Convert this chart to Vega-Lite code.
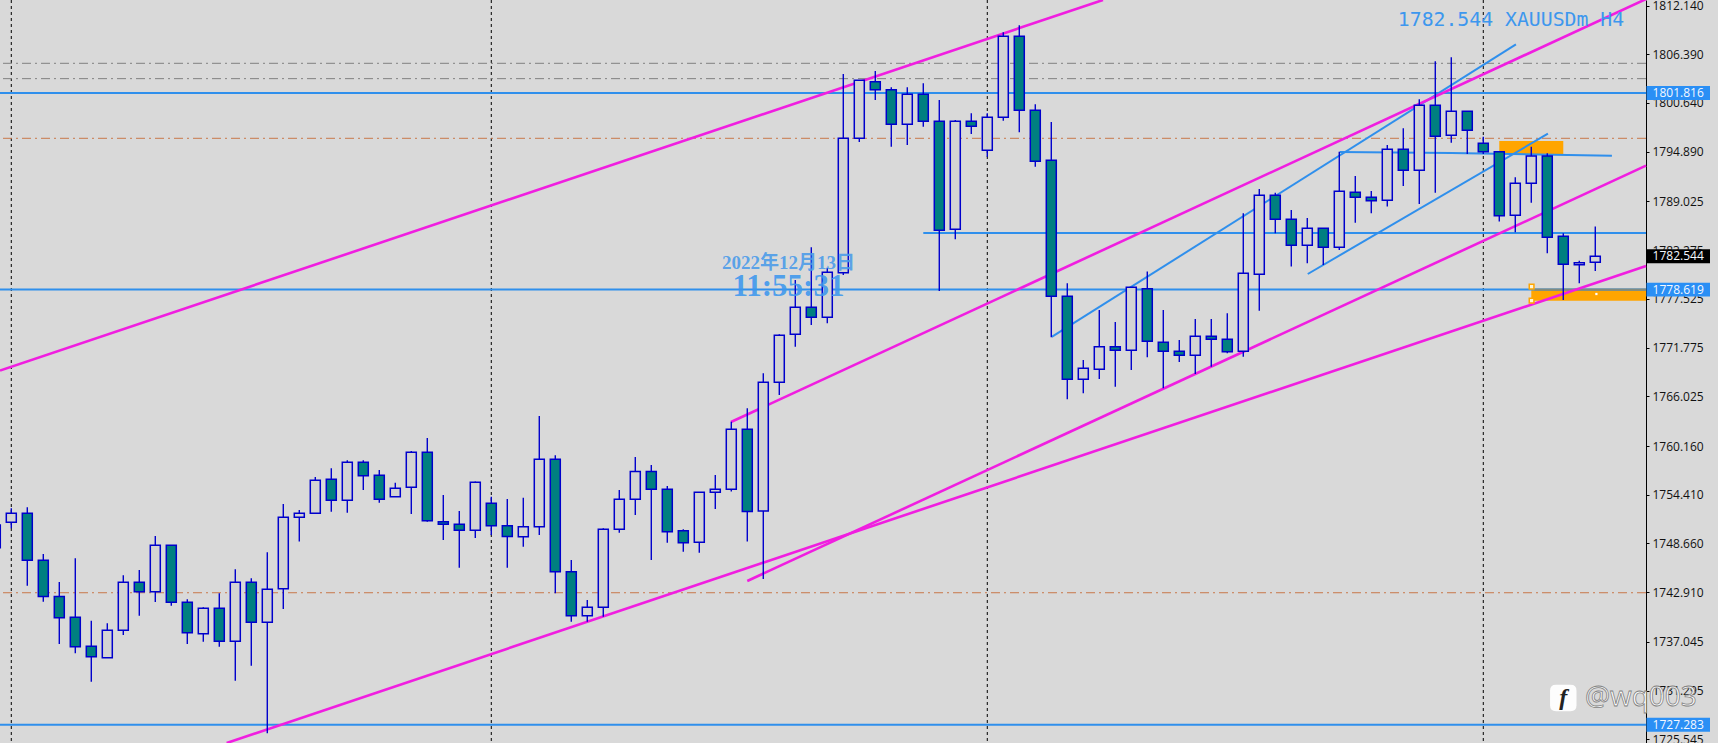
{
"$schema":"https://vega.github.io/schema/vega-lite/v6.json",
"width":1646,"height":743,"autosize":"none","padding":{"left":0,"top":0,"right":72,"bottom":0},
"background":"#d9d9d9",
"view":{"stroke":null,"fill":"#d9d9d9"},
"datasets":{
"candles":[
{"i":-1,"h":1751.0,"o":1748.17,"c":1750.84,"l":1748.0,"t":"up"},
{"i":0,"h":1752.81,"o":1751.16,"c":1752.22,"l":1750.45,"t":"up"},
{"i":1,"h":1752.93,"o":1752.22,"c":1746.67,"l":1743.68,"t":"down"},
{"i":2,"h":1747.42,"o":1746.67,"c":1742.42,"l":1741.80,"t":"down"},
{"i":3,"h":1744.12,"o":1742.42,"c":1739.91,"l":1736.80,"t":"down"},
{"i":4,"h":1746.91,"o":1739.95,"c":1736.49,"l":1735.70,"t":"down"},
{"i":5,"h":1739.55,"o":1736.53,"c":1735.31,"l":1732.36,"t":"down"},
{"i":6,"h":1739.24,"o":1735.19,"c":1738.41,"l":1735.19,"t":"up"},
{"i":7,"h":1744.90,"o":1738.41,"c":1744.08,"l":1737.86,"t":"up"},
{"i":8,"h":1745.53,"o":1744.08,"c":1742.98,"l":1740.14,"t":"down"},
{"i":9,"h":1749.54,"o":1742.98,"c":1748.44,"l":1741.76,"t":"up"},
{"i":10,"h":1748.44,"o":1748.44,"c":1741.72,"l":1741.32,"t":"down"},
{"i":11,"h":1742.07,"o":1741.72,"c":1738.14,"l":1736.80,"t":"down"},
{"i":12,"h":1741.13,"o":1738.02,"c":1741.01,"l":1737.08,"t":"up"},
{"i":13,"h":1742.78,"o":1741.01,"c":1737.12,"l":1736.49,"t":"down"},
{"i":14,"h":1745.61,"o":1737.12,"c":1744.08,"l":1732.47,"t":"up"},
{"i":15,"h":1744.55,"o":1744.08,"c":1739.36,"l":1734.24,"t":"down"},
{"i":16,"h":1747.62,"o":1739.36,"c":1743.25,"l":1726.26,"t":"up"},
{"i":17,"h":1753.32,"o":1743.33,"c":1751.75,"l":1740.93,"t":"up"},
{"i":18,"h":1752.61,"o":1751.75,"c":1752.22,"l":1748.91,"t":"up"},
{"i":19,"h":1756.50,"o":1752.22,"c":1756.11,"l":1752.22,"t":"up"},
{"i":20,"h":1757.53,"o":1756.23,"c":1753.75,"l":1752.41,"t":"down"},
{"i":21,"h":1758.47,"o":1753.75,"c":1758.24,"l":1752.30,"t":"up"},
{"i":22,"h":1758.47,"o":1758.24,"c":1756.66,"l":1754.97,"t":"down"},
{"i":23,"h":1757.33,"o":1756.70,"c":1753.87,"l":1753.48,"t":"down"},
{"i":24,"h":1755.84,"o":1754.18,"c":1755.17,"l":1754.18,"t":"up"},
{"i":25,"h":1759.57,"o":1755.29,"c":1759.42,"l":1752.14,"t":"up"},
{"i":26,"h":1761.11,"o":1759.42,"c":1751.35,"l":1751.23,"t":"down"},
{"i":27,"h":1754.38,"o":1751.23,"c":1750.92,"l":1749.07,"t":"down"},
{"i":28,"h":1752.49,"o":1750.92,"c":1750.21,"l":1745.81,"t":"down"},
{"i":29,"h":1755.99,"o":1750.21,"c":1755.88,"l":1749.31,"t":"up"},
{"i":30,"h":1754.18,"o":1753.40,"c":1750.76,"l":1749.66,"t":"down"},
{"i":31,"h":1753.91,"o":1750.76,"c":1749.50,"l":1745.81,"t":"down"},
{"i":32,"h":1754.07,"o":1749.46,"c":1750.64,"l":1748.28,"t":"up"},
{"i":33,"h":1763.70,"o":1750.64,"c":1758.59,"l":1749.66,"t":"up"},
{"i":34,"h":1759.06,"o":1758.59,"c":1745.34,"l":1742.78,"t":"down"},
{"i":35,"h":1746.71,"o":1745.34,"c":1740.14,"l":1739.44,"t":"down"},
{"i":36,"h":1741.99,"o":1740.14,"c":1741.13,"l":1739.44,"t":"up"},
{"i":37,"h":1750.45,"o":1741.13,"c":1750.33,"l":1740.03,"t":"up"},
{"i":38,"h":1754.97,"o":1750.33,"c":1753.87,"l":1749.94,"t":"up"},
{"i":39,"h":1758.86,"o":1753.87,"c":1757.17,"l":1752.02,"t":"up"},
{"i":40,"h":1757.92,"o":1757.17,"c":1755.05,"l":1746.71,"t":"down"},
{"i":41,"h":1755.44,"o":1755.05,"c":1750.05,"l":1748.76,"t":"down"},
{"i":42,"h":1750.33,"o":1750.17,"c":1748.76,"l":1747.69,"t":"down"},
{"i":43,"h":1754.70,"o":1748.80,"c":1754.70,"l":1747.58,"t":"up"},
{"i":44,"h":1756.74,"o":1754.70,"c":1755.05,"l":1752.73,"t":"up"},
{"i":45,"h":1763.03,"o":1755.05,"c":1762.13,"l":1754.81,"t":"up"},
{"i":46,"h":1764.61,"o":1762.13,"c":1752.45,"l":1748.91,"t":"down"},
{"i":47,"h":1768.74,"o":1752.50,"c":1767.68,"l":1744.47,"t":"up"},
{"i":48,"h":1773.34,"o":1767.68,"c":1773.22,"l":1766.18,"t":"up"},
{"i":49,"h":1779.75,"o":1773.34,"c":1776.53,"l":1771.89,"t":"up"},
{"i":50,"h":1783.61,"o":1776.53,"c":1775.35,"l":1774.44,"t":"down"},
{"i":51,"h":1781.21,"o":1775.35,"c":1780.66,"l":1774.64,"t":"up"},
{"i":52,"h":1804.06,"o":1780.62,"c":1796.47,"l":1780.34,"t":"up"},
{"i":53,"h":1803.35,"o":1796.47,"c":1803.31,"l":1796.04,"t":"up"},
{"i":54,"h":1804.41,"o":1803.15,"c":1802.21,"l":1800.99,"t":"down"},
{"i":55,"h":1802.49,"o":1802.21,"c":1798.12,"l":1795.48,"t":"down"},
{"i":56,"h":1802.49,"o":1798.12,"c":1801.66,"l":1795.68,"t":"up"},
{"i":57,"h":1802.96,"o":1801.66,"c":1798.47,"l":1797.84,"t":"down"},
{"i":58,"h":1800.99,"o":1798.47,"c":1785.61,"l":1778.45,"t":"down"},
{"i":59,"h":1798.63,"o":1785.73,"c":1798.47,"l":1784.55,"t":"up"},
{"i":60,"h":1799.42,"o":1798.47,"c":1797.88,"l":1796.98,"t":"down"},
{"i":61,"h":1799.42,"o":1795.05,"c":1798.95,"l":1794.30,"t":"up"},
{"i":62,"h":1808.97,"o":1798.95,"c":1808.50,"l":1798.55,"t":"up"},
{"i":63,"h":1809.80,"o":1808.50,"c":1799.77,"l":1797.18,"t":"down"},
{"i":64,"h":1800.48,"o":1799.77,"c":1793.75,"l":1793.12,"t":"down"},
{"i":65,"h":1798.40,"o":1793.87,"c":1777.83,"l":1772.99,"t":"down"},
{"i":66,"h":1779.36,"o":1777.83,"c":1768.03,"l":1765.67,"t":"down"},
{"i":67,"h":1770.31,"o":1768.03,"c":1769.33,"l":1766.38,"t":"up"},
{"i":68,"h":1776.21,"o":1769.21,"c":1771.89,"l":1768.07,"t":"up"},
{"i":69,"h":1774.80,"o":1771.89,"c":1771.45,"l":1767.17,"t":"down"},
{"i":70,"h":1778.89,"o":1771.45,"c":1778.89,"l":1769.13,"t":"up"},
{"i":71,"h":1780.74,"o":1778.73,"c":1772.52,"l":1770.63,"t":"down"},
{"i":72,"h":1776.21,"o":1772.40,"c":1771.34,"l":1766.97,"t":"down"},
{"i":73,"h":1772.67,"o":1771.34,"c":1770.86,"l":1770.08,"t":"down"},
{"i":74,"h":1775.15,"o":1770.86,"c":1773.11,"l":1768.66,"t":"up"},
{"i":75,"h":1775.15,"o":1773.11,"c":1772.75,"l":1769.53,"t":"down"},
{"i":76,"h":1775.82,"o":1772.75,"c":1771.30,"l":1771.10,"t":"down"},
{"i":77,"h":1787.62,"o":1771.34,"c":1780.54,"l":1770.71,"t":"up"},
{"i":78,"h":1790.49,"o":1780.42,"c":1789.74,"l":1776.13,"t":"up"},
{"i":79,"h":1790.06,"o":1789.74,"c":1786.91,"l":1785.26,"t":"down"},
{"i":80,"h":1788.01,"o":1786.91,"c":1783.84,"l":1781.33,"t":"down"},
{"i":81,"h":1787.07,"o":1783.84,"c":1785.85,"l":1781.72,"t":"up"},
{"i":82,"h":1785.85,"o":1785.85,"c":1783.61,"l":1781.52,"t":"down"},
{"i":83,"h":1794.89,"o":1783.61,"c":1790.21,"l":1783.29,"t":"up"},
{"i":84,"h":1792.02,"o":1790.10,"c":1789.51,"l":1786.52,"t":"down"},
{"i":85,"h":1790.25,"o":1789.51,"c":1789.11,"l":1787.62,"t":"down"},
{"i":86,"h":1795.68,"o":1789.15,"c":1795.17,"l":1788.41,"t":"up"},
{"i":87,"h":1797.65,"o":1795.17,"c":1792.69,"l":1790.84,"t":"down"},
{"i":88,"h":1801.07,"o":1792.69,"c":1800.36,"l":1788.72,"t":"up"},
{"i":89,"h":1805.55,"o":1800.36,"c":1796.70,"l":1790.06,"t":"down"},
{"i":90,"h":1806.03,"o":1796.82,"c":1799.65,"l":1795.96,"t":"up"},
{"i":91,"h":1799.65,"o":1799.65,"c":1797.41,"l":1794.62,"t":"down"},
{"i":92,"h":1796.66,"o":1795.88,"c":1794.89,"l":1794.62,"t":"down"},
{"i":93,"h":1794.89,"o":1794.89,"c":1787.34,"l":1786.64,"t":"down"},
{"i":94,"h":1791.87,"o":1787.38,"c":1791.16,"l":1785.38,"t":"up"},
{"i":95,"h":1795.48,"o":1791.16,"c":1794.38,"l":1788.88,"t":"up"},
{"i":96,"h":1794.70,"o":1794.38,"c":1784.79,"l":1782.90,"t":"down"},
{"i":97,"h":1785.26,"o":1784.91,"c":1781.60,"l":1777.39,"t":"down"},
{"i":98,"h":1782.03,"o":1781.56,"c":1781.80,"l":1779.36,"t":"up"},
{"i":99,"h":1786.05,"o":1781.84,"c":1782.54,"l":1780.82,"t":"up"}
]
},
"layer":[
{"data":{"values":[{"a":93.0,"b":97.0,"p0":1796.15,"p1":1794.62},{"a":95.0,"b":102.17,"p0":1778.65,"p1":1777.31}]},
 "mark":{"type":"rect","fill":"#ffa500"},
 "encoding":{"x":{"field":"a","type":"quantitative","scale":{"domain":[-0.706,102.17],"nice":false,"zero":false,"padding":0},"axis":null},"x2":{"field":"b"},
 "y":{"field":"p0","type":"quantitative","scale":{"domain":[1725.12,1812.79],"nice":false,"zero":false},"title":null,
  "axis":{"orient":"right","values":[1812.14,1806.39,1800.64,1794.89,1789.025,1783.275,1777.525,1771.775,1766.025,1760.16,1754.41,1748.66,1742.91,1737.045,1731.295,1725.545],"format":".3f","grid":false,"domainColor":"#000000","domainWidth":1,"tickColor":"#000000","tickSize":3,"labelColor":"#111111","labelFont":"Open Sans","labelFontSize":12,"labelPadding":3,"labelOverlap":false,"labelBound":false,"labelFlush":false,"title":null}},
 "y2":{"field":"p1"}}},
{"data":{"values":[{"d":0},{"d":30},{"d":61},{"d":92}]},
 "mark":{"type":"rule","color":"#000000","strokeWidth":1,"strokeDash":[3,3]},
 "encoding":{"x":{"field":"d","type":"quantitative","scale":{"domain":[-0.706,102.17],"nice":false,"zero":false,"padding":0},"axis":null}}},
{"data":{"values":[{"p":1796.47,"k":"o"},{"p":1742.85,"k":"o"},{"p":1805.32,"k":"g"},{"p":1803.51,"k":"g"}]},
 "mark":{"type":"rule","strokeWidth":1,"strokeDash":[9,4,2,4]},
 "encoding":{"y":{"field":"p","type":"quantitative","scale":{"domain":[1725.12,1812.79],"nice":false,"zero":false},"title":null},
 "stroke":{"field":"k","type":"nominal","scale":{"domain":["o","g"],"range":["#c8784a","#808080"]},"legend":null}}},
{"data":{"values":[{"a":-0.706,"b":102.17,"p":1801.816},{"a":-0.706,"b":102.17,"p":1778.619},{"a":-0.706,"b":102.17,"p":1727.283},{"a":57.0,"b":102.17,"p":1785.30}]},
 "mark":{"type":"rule","color":"#2f8fec","strokeWidth":2},
 "encoding":{"x":{"field":"a","type":"quantitative","scale":{"domain":[-0.706,102.17],"nice":false,"zero":false,"padding":0},"axis":null},"x2":{"field":"b"},
 "y":{"field":"p","type":"quantitative","scale":{"domain":[1725.12,1812.79],"nice":false,"zero":false},"title":null}}},
{"data":{"values":[{"a":95.2,"b":102.17,"p":1778.619}]},
 "mark":{"type":"rule","color":"#7f8a80","strokeWidth":2.4},
 "encoding":{"x":{"field":"a","type":"quantitative","scale":{"domain":[-0.706,102.17],"nice":false,"zero":false,"padding":0},"axis":null},"x2":{"field":"b"},
 "y":{"field":"p","type":"quantitative","scale":{"domain":[1725.12,1812.79],"nice":false,"zero":false},"title":null}}},
{"data":{"values":[
 {"id":"b1","i":65.03,"p":1773.03},{"id":"b1","i":94.04,"p":1807.56},
 {"id":"b2","i":81.03,"p":1780.46},{"id":"b2","i":96.04,"p":1797.01},
 {"id":"b3","i":83.03,"p":1794.85},{"id":"b3","i":90.0,"p":1794.75},{"id":"b3","i":100.04,"p":1794.42}]},
 "mark":{"type":"line","color":"#2f8fec","strokeWidth":2},
 "encoding":{"x":{"field":"i","type":"quantitative","scale":{"domain":[-0.706,102.17],"nice":false,"zero":false,"padding":0},"axis":null},
 "y":{"field":"p","type":"quantitative","scale":{"domain":[1725.12,1812.79],"nice":false,"zero":false},"title":null},"detail":{"field":"id"}}},
{"data":{"values":[
 {"id":"A","i":-0.706,"p":1769.07},{"id":"A","i":68.23,"p":1812.79},
 {"id":"B","i":44.98,"p":1763.0},{"id":"B","i":102.17,"p":1812.9},
 {"id":"C","i":46.0,"p":1744.24},{"id":"C","i":102.17,"p":1793.24},
 {"id":"D","i":13.46,"p":1725.12},{"id":"D","i":102.17,"p":1781.40}]},
 "mark":{"type":"line","color":"#f01ee0","strokeWidth":2.6},
 "encoding":{"x":{"field":"i","type":"quantitative","scale":{"domain":[-0.706,102.17],"nice":false,"zero":false,"padding":0},"axis":null},
 "y":{"field":"p","type":"quantitative","scale":{"domain":[1725.12,1812.79],"nice":false,"zero":false},"title":null},"detail":{"field":"id"}}},
{"data":{"name":"candles"},
 "mark":{"type":"rule","color":"#0000cc","strokeWidth":1.4},
 "encoding":{"x":{"field":"i","type":"quantitative","scale":{"domain":[-0.706,102.17],"nice":false,"zero":false,"padding":0},"axis":null},
 "y":{"field":"l","type":"quantitative","scale":{"domain":[1725.12,1812.79],"nice":false,"zero":false},"title":null},"y2":{"field":"h"}}},
{"data":{"name":"candles"},
 "mark":{"type":"bar","size":10,"stroke":"#0000cc","strokeWidth":1.5},
 "encoding":{"x":{"field":"i","type":"quantitative","scale":{"domain":[-0.706,102.17],"nice":false,"zero":false,"padding":0},"axis":null},
 "y":{"field":"o","type":"quantitative","scale":{"domain":[1725.12,1812.79],"nice":false,"zero":false},"title":null},"y2":{"field":"c"},
 "fill":{"field":"t","type":"nominal","scale":{"domain":["up","down"],"range":["#d3d3d3","#007f80"]},"legend":null}}},
{"data":{"values":[{"i":93.73,"p":1810.43,"s":"1782.544 XAUUSDm H4"}]},
 "mark":{"type":"text","font":"DejaVu Sans Mono","fontSize":19.8,"color":"#3d97ee","align":"center","baseline":"middle"},
 "encoding":{"x":{"field":"i","type":"quantitative","scale":{"domain":[-0.706,102.17],"nice":false,"zero":false,"padding":0},"axis":null},
 "y":{"field":"p","type":"quantitative","scale":{"domain":[1725.12,1812.79],"nice":false,"zero":false},"title":null},"text":{"field":"s"}}},
{"data":{"values":[{"i":48.57,"p":1781.76,"s":"2022年12月13日"}]},
 "mark":{"type":"text","font":"Liberation Serif, Noto Sans CJK SC","fontWeight":"bold","fontSize":19,"color":"#4a9bea","fillOpacity":0.9,"align":"center","baseline":"middle"},
 "encoding":{"x":{"field":"i","type":"quantitative","scale":{"domain":[-0.706,102.17],"nice":false,"zero":false,"padding":0},"axis":null},
 "y":{"field":"p","type":"quantitative","scale":{"domain":[1725.12,1812.79],"nice":false,"zero":false},"title":null},"text":{"field":"s"}}},
{"data":{"values":[{"i":48.57,"p":1778.93,"s":"11:55:31"}]},
 "mark":{"type":"text","font":"Liberation Serif","fontWeight":"bold","fontSize":31,"color":"#3d97ee","fillOpacity":0.9,"align":"center","baseline":"middle"},
 "encoding":{"x":{"field":"i","type":"quantitative","scale":{"domain":[-0.706,102.17],"nice":false,"zero":false,"padding":0},"axis":null},
 "y":{"field":"p","type":"quantitative","scale":{"domain":[1725.12,1812.79],"nice":false,"zero":false},"title":null},"text":{"field":"s"}}},
{"data":{"values":[{"i":95.02,"p":1778.96},{"i":95.02,"p":1777.31}]},
 "mark":{"type":"point","shape":"square","size":22,"filled":true,"fill":"#fff6d8","stroke":"#ffa500","strokeWidth":1.5,"opacity":1},
 "encoding":{"x":{"field":"i","type":"quantitative","scale":{"domain":[-0.706,102.17],"nice":false,"zero":false,"padding":0},"axis":null},
 "y":{"field":"p","type":"quantitative","scale":{"domain":[1725.12,1812.79],"nice":false,"zero":false},"title":null}}},
{"data":{"values":[{"i":99.07,"p":1778.10}]},
 "mark":{"type":"point","shape":"square","size":5,"filled":true,"fill":"#ffffff","opacity":1},
 "encoding":{"x":{"field":"i","type":"quantitative","scale":{"domain":[-0.706,102.17],"nice":false,"zero":false,"padding":0},"axis":null},
 "y":{"field":"p","type":"quantitative","scale":{"domain":[1725.12,1812.79],"nice":false,"zero":false},"title":null}}},
{"data":{"values":[{"a":102.2,"b":106.17,"p0":1802.64,"p1":1800.99},{"a":102.2,"b":106.17,"p0":1779.44,"p1":1777.79},{"a":102.2,"b":106.17,"p0":1728.1,"p1":1726.45}]},
 "mark":{"type":"rect","color":"#2a8ff5"},
 "encoding":{"x":{"field":"a","type":"quantitative","scale":{"domain":[-0.706,102.17],"nice":false,"zero":false,"padding":0},"axis":null},"x2":{"field":"b"},
 "y":{"field":"p0","type":"quantitative","scale":{"domain":[1725.12,1812.79],"nice":false,"zero":false},"title":null},"y2":{"field":"p1"}}},
{"data":{"values":[{"a":102.2,"b":106.17,"p0":1783.37,"p1":1781.72}]},
 "mark":{"type":"rect","color":"#000000"},
 "encoding":{"x":{"field":"a","type":"quantitative","scale":{"domain":[-0.706,102.17],"nice":false,"zero":false,"padding":0},"axis":null},"x2":{"field":"b"},
 "y":{"field":"p0","type":"quantitative","scale":{"domain":[1725.12,1812.79],"nice":false,"zero":false},"title":null},"y2":{"field":"p1"}}},
{"data":{"values":[{"i":104.18,"p":1801.816,"s":"1801.816"},{"i":104.18,"p":1782.544,"s":"1782.544"},{"i":104.18,"p":1778.619,"s":"1778.619"},{"i":104.18,"p":1727.283,"s":"1727.283"}]},
 "mark":{"type":"text","font":"Open Sans","fontSize":12,"color":"#f4f8ff","align":"center","baseline":"middle"},
 "encoding":{"x":{"field":"i","type":"quantitative","scale":{"domain":[-0.706,102.17],"nice":false,"zero":false,"padding":0},"axis":null},
 "y":{"field":"p","type":"quantitative","scale":{"domain":[1725.12,1812.79],"nice":false,"zero":false},"title":null},"text":{"field":"s"}}},
{"data":{"values":[{"i":97.0,"p":1730.43}]},
 "mark":{"type":"point","shape":"M-1,-0.55Q-1,-1,-0.55,-1L0.55,-1Q1,-1,1,-0.55L1,0.55Q1,1,0.55,1L-0.55,1Q-1,1,-1,0.55Z","size":700,"filled":true,"fill":"#ffffff","opacity":0.95},
 "encoding":{"x":{"field":"i","type":"quantitative","scale":{"domain":[-0.706,102.17],"nice":false,"zero":false,"padding":0},"axis":null},
 "y":{"field":"p","type":"quantitative","scale":{"domain":[1725.12,1812.79],"nice":false,"zero":false},"title":null}}},
{"data":{"values":[{"i":97.0,"p":1730.43,"s":"f"}]},
 "mark":{"type":"text","font":"Liberation Serif","fontStyle":"italic","fontWeight":"bold","fontSize":24,"color":"#222222","align":"center","baseline":"middle"},
 "encoding":{"x":{"field":"i","type":"quantitative","scale":{"domain":[-0.706,102.17],"nice":false,"zero":false,"padding":0},"axis":null},
 "y":{"field":"p","type":"quantitative","scale":{"domain":[1725.12,1812.79],"nice":false,"zero":false},"title":null},"text":{"field":"s"}}},
{"data":{"values":[{"i":101.85,"p":1730.43,"s":"@wq003"}]},
 "mark":{"type":"text","font":"Open Sans","fontSize":28,"fill":"#ffffff","stroke":"#808080","strokeWidth":0.8,"fillOpacity":0.92,"align":"center","baseline":"middle"},
 "encoding":{"x":{"field":"i","type":"quantitative","scale":{"domain":[-0.706,102.17],"nice":false,"zero":false,"padding":0},"axis":null},
 "y":{"field":"p","type":"quantitative","scale":{"domain":[1725.12,1812.79],"nice":false,"zero":false},"title":null},"text":{"field":"s"}}}
]
}
